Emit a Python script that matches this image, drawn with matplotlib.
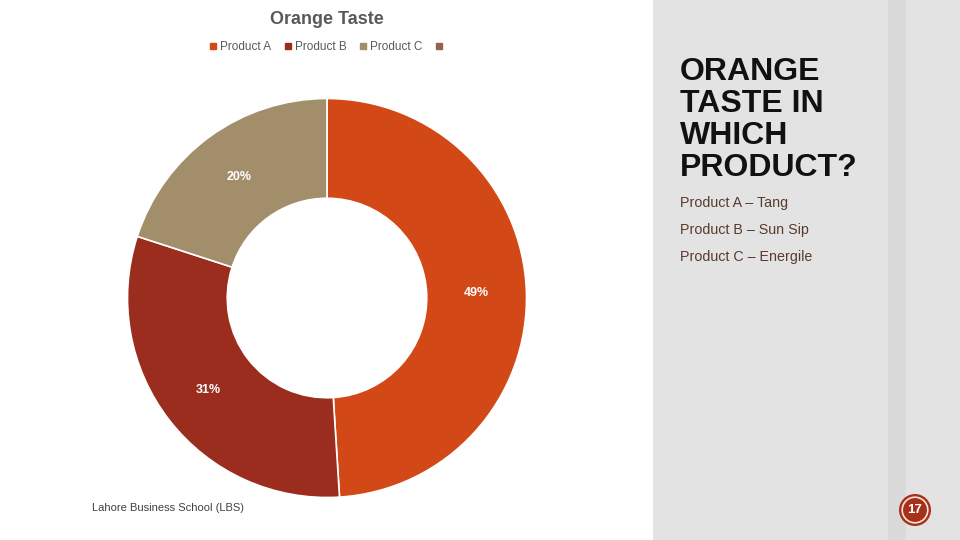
import matplotlib
matplotlib.use("Agg")
import matplotlib.pyplot as plt
from matplotlib.patches import Rectangle, Circle
from matplotlib.lines import Line2D
import numpy as np

plt.rcParams["font.family"] = ["Liberation Sans", "DejaVu Sans"]

categories = ["Product A", "Product B", "Product C", ""]
values = [49, 31, 20, 0]
colors = ["#D34817", "#9B2D1F", "#A28E6A", "#956251"]
pct_labels = ["49%", "31%", "20%"]
notes = ["Product A – Tang", "Product B – Sun Sip", "Product C – Energile"]

fig = plt.figure(figsize=(9.6, 5.4), dpi=100)
fig.patch.set_facecolor("white")

# right gray panel
fig.patches.append(Rectangle((653/960, 0), 1 - 653/960, 1, transform=fig.transFigure,
                             facecolor="#E3E3E3", edgecolor="none", zorder=-2))
fig.patches.append(Rectangle((888/960, 0), 18/960, 1, transform=fig.transFigure,
                             facecolor="#DADADA", edgecolor="none", zorder=-1))

# donut
cx, cy, r = 327, 298, 199.5
ax = fig.add_axes([(cx - r)/960, 1 - (cy + r)/540, 2*r/960, 2*r/540])
wedges, _ = ax.pie(values[:3], colors=colors[:3], startangle=90, counterclock=False,
                   radius=1.0, wedgeprops=dict(width=0.5, edgecolor="white", linewidth=1.2))
ang = 90.0
for v, lab in zip(values[:3], pct_labels):
    mid = ang - v * 3.6 / 2
    ang -= v * 3.6
    rad = np.deg2rad(mid)
    ax.text(0.75*np.cos(rad), 0.75*np.sin(rad), lab, ha="center", va="center",
            color="white", fontsize=9, fontweight="bold")
ax.set_xlim(-1, 1)
ax.set_ylim(-1, 1)
ax.set_aspect("equal")
ax.axis("off")

# title
fig.text(327/960, 1 - 19/540, "Orange Taste", ha="center", va="center",
         fontsize=13, fontweight="bold", color="#595959")

# legend
handles = [Line2D([0], [0], marker="s", linestyle="none", markersize=5,
                  markerfacecolor=c, markeredgecolor=c) for c in colors]
leg = fig.legend(handles, categories, loc="center", bbox_to_anchor=(327/960, 1 - 47/540),
                 ncol=4, frameon=False, fontsize=8.5, handletextpad=0.2, columnspacing=1.0,
                 labelcolor="#595959", handlelength=0.8)

# right side heading
fig.text(680/960, 1 - 57/540, "ORANGE\nTASTE IN\nWHICH\nPRODUCT?", ha="left", va="top",
         fontsize=23, fontweight="bold", color="#111111", linespacing=1.08)
for i, n in enumerate(notes):
    fig.text(680/960, 1 - (203 + 27*i)/540, n, ha="left", va="center", fontsize=10.3,
             color="#5A3A2E")

# footer
fig.text(92/960, 1 - 508/540, "Lahore Business School (LBS)", ha="left", va="center",
         fontsize=8, color="#404040")

# page number badge
bx = fig.add_axes([899/960, 1 - 526/540, 32/960, 32/540])
bx.set_xlim(-1, 1); bx.set_ylim(-1, 1); bx.set_aspect("equal"); bx.axis("off")
bx.add_patch(Circle((0, 0), 1.0, facecolor="#A8301A", edgecolor="none"))
bx.add_patch(Circle((0, 0), 0.8, facecolor="none", edgecolor="#F5E6DA", linewidth=1.2))
bx.text(0, 0, "17", ha="center", va="center", color="white", fontsize=9.5, fontweight="bold")

fig.savefig("out.png", dpi=100)
